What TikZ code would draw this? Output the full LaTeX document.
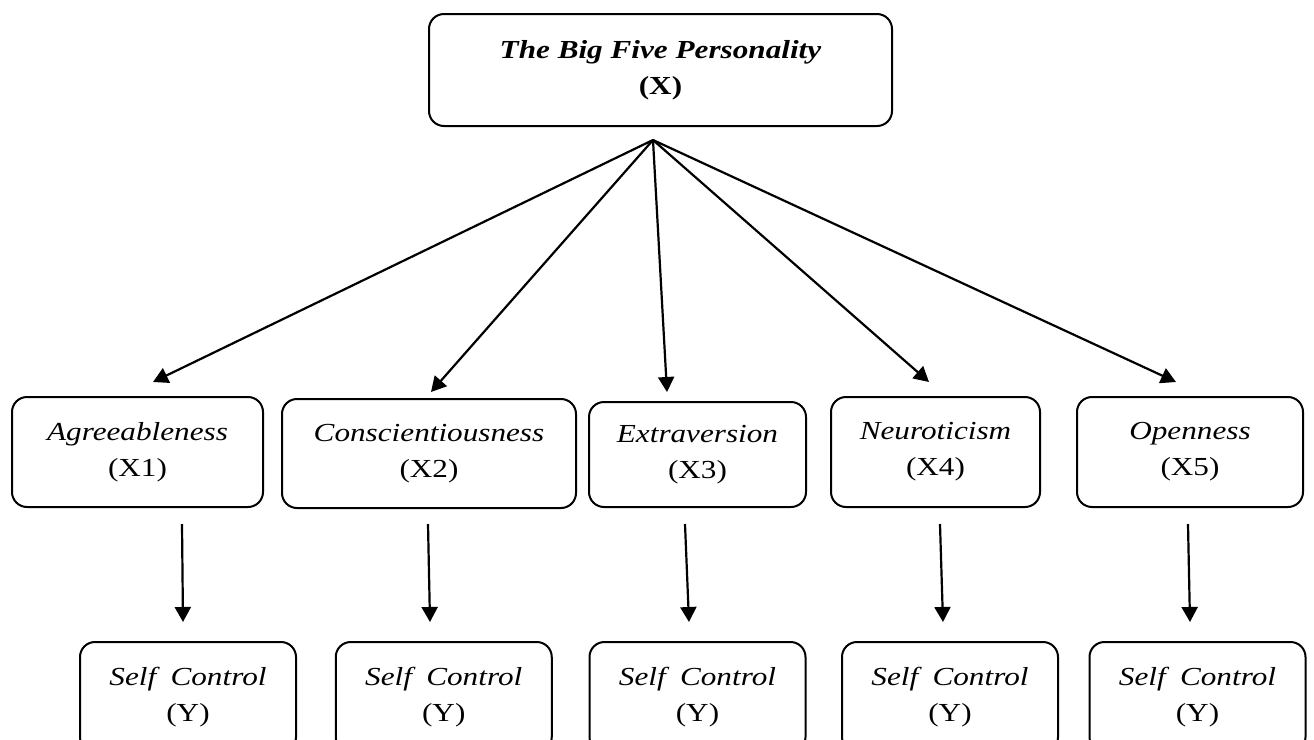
\documentclass[tikz,border=0pt]{standalone}
\usepackage{fontspec}
\setmainfont{Liberation Serif}[FakeStretch=1.2]
\usetikzlibrary{arrows.meta}
\begin{document}
\begin{tikzpicture}[x=0.5pt,y=-0.5pt,>={Triangle[length=7.5pt,width=8pt]},line join=round,
	box/.style={draw,line width=1pt,rounded corners=7.5pt,align=center,inner sep=0pt,font=\fontsize{13}{18}\selectfont},
	arr/.style={->,line width=1.1pt}]
	\useasboundingbox (0,0) rectangle (1314,740);
	\clip (0,0) rectangle (1314,740);
	\node[box,minimum width=231.5pt,minimum height=56pt] (tb) at (660.5,70) {\textbf{\textit{The Big Five Personality}}\\\textbf{(X)}};
	\coordinate (hub) at ([shift={(-7.5,13)}]tb.south);
	% dimensi
	\foreach \i/\xc/\yc/\w/\h/\t in {1/137.5/452/125.5/55/Agreeableness,2/429/453.5/147/54.5/Conscientiousness,3/697.5/454.5/108.5/52.5/Extraversion,4/935.5/452/104.5/55/Neuroticism,5/1190/452/113/55/Openness}
	\node[box,minimum width=\w pt,minimum height=\h pt] (x\i) at (\xc,\yc) {\textit{\t}\\(X\i)};
	\foreach \i/\xc in {1/188,2/443.75,3/697.5,4/950,5/1197.5}
	\node[box,minimum width=108pt,minimum height=55pt] (y\i) at (\xc,697) {\textit{Self\hspace{0.55em}Control}\\(Y)};
	% panah
	\foreach \i/\dx/\dy in {1/15.5/-14,2/2/-6,3/-30.5/-9,4/-6.5/-14,5/-14/-14}
	\draw[arr] (hub) -- ([shift={(\dx,\dy)}]x\i.north);
	\foreach \i/\a/\b/\c/\d in {1/44.5/16/-5/-19,2/-1/15/-13.75/-19,3/-12.5/16/-8.5/-19,4/4.5/16/-7/-19,5/-2/16/-7.5/-19}
	\draw[arr] ([shift={(\a,\b)}]x\i.south) -- ([shift={(\c,\d)}]y\i.north);
\end{tikzpicture}
\end{document}
